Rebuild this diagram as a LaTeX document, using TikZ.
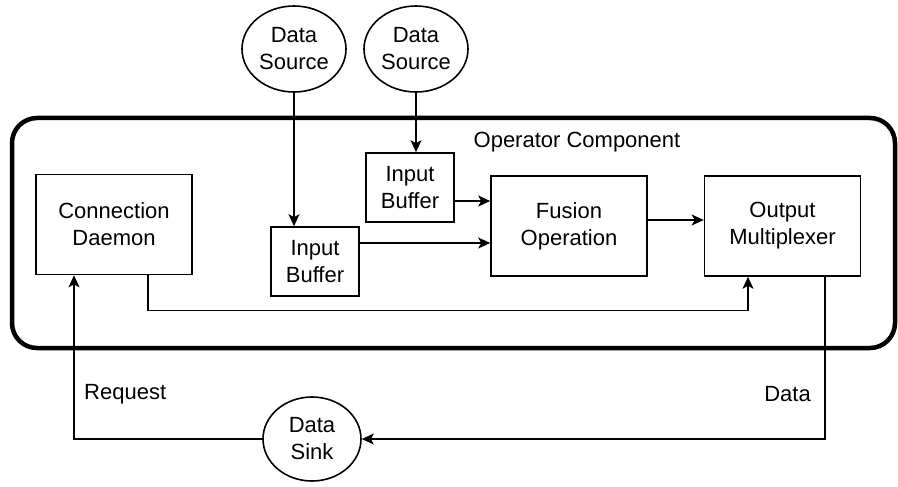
\documentclass[tikz,border=0pt]{standalone}
\usepackage{fontspec}
\setmainfont{Liberation Sans}
\usetikzlibrary{shapes.geometric,arrows.meta,calc}

\tikzset{
  every node/.style={font=\fontsize{22}{27}\selectfont, align=center, inner sep=0pt},
  blockbox/.style={draw, line width=1.6pt, minimum width=156pt, minimum height=100pt},
  bufbox/.style={draw, line width=1.6pt, minimum width=88pt, minimum height=69pt},
  endpoint/.style={draw, ellipse, line width=1.6pt},
  arr/.style={line width=1.6pt, -{Stealth[length=12pt,width=11pt,inset=3pt]}},
  wire/.style={line width=1.6pt},
  container/.style={draw, line width=4.5pt, rounded corners=25pt, minimum width=883pt, minimum height=230pt}
}

\begin{document}
\begin{tikzpicture}[x=1pt,y=-1pt]
\useasboundingbox (0,0) rectangle (898,487);

% enclosing operator component
\node[container] (opc) at (453.5,233) {};
\node (opclabel) at (577,142) {Operator Component};

% external sources
\node[endpoint, minimum width=104pt, minimum height=86pt] (ds1) at (294,49) {Data\\Source};
\node[endpoint, minimum width=104pt, minimum height=86pt] (ds2) at (416,49) {Data\\Source};

% inner blocks
\node[blockbox] (cd)  at (114,224.5) {Connection\\Daemon};
\node[bufbox]   (ib1) at (410,187.5) {Input\\Buffer};
\node[bufbox]   (ib2) at (315,261.5) {Input\\Buffer};
\node[blockbox] (fus) at (569,226) {Fusion\\Operation};
\node[blockbox] (om)  at (782.5,226) {Output\\Multiplexer};

% sink
\node[endpoint, minimum width=98pt, minimum height=84pt] (sink) at (312,439) {Data\\Sink};

% labels on the outer loop
\node[anchor=west] (reqlabel) at (84,394) {Request};
\node[anchor=east] (datalabel) at (811,394) {Data};

% sources into buffers
\draw[arr] (ds1.south) -- (ds1.south |- ib2.north);
\draw[arr] (ds2.south) -- (ds2.south |- ib1.north);

% buffers into fusion
\coordinate (b1out) at ([yshift=-13.5pt]ib1.east);
\draw[arr] (b1out) -- (b1out -| fus.west);
\coordinate (b2out) at ([yshift=18.5pt]ib2.east);
\draw[arr] (b2out) -- (b2out -| fus.west);

% fusion into multiplexer
\coordinate (fout) at ([yshift=6pt]fus.east);
\draw[arr] (fout) -- (fout -| om.west);

% daemon control path to multiplexer
\coordinate (cdout) at ([xshift=34pt]cd.south);
\coordinate (omin)  at ([xshift=-34.5pt]om.south);
\draw[arr] (cdout) |- ($(cdout)+(0,35)$) -| (omin);

% request and data loop through the sink
\coordinate (cdin)  at ([xshift=-40pt]cd.south);
\coordinate (omout) at ([xshift=42.5pt]om.south);
\draw[arr] (sink.west) -| (cdin);
\draw[arr] (omout) |- (sink.east);
\end{tikzpicture}
\end{document}
